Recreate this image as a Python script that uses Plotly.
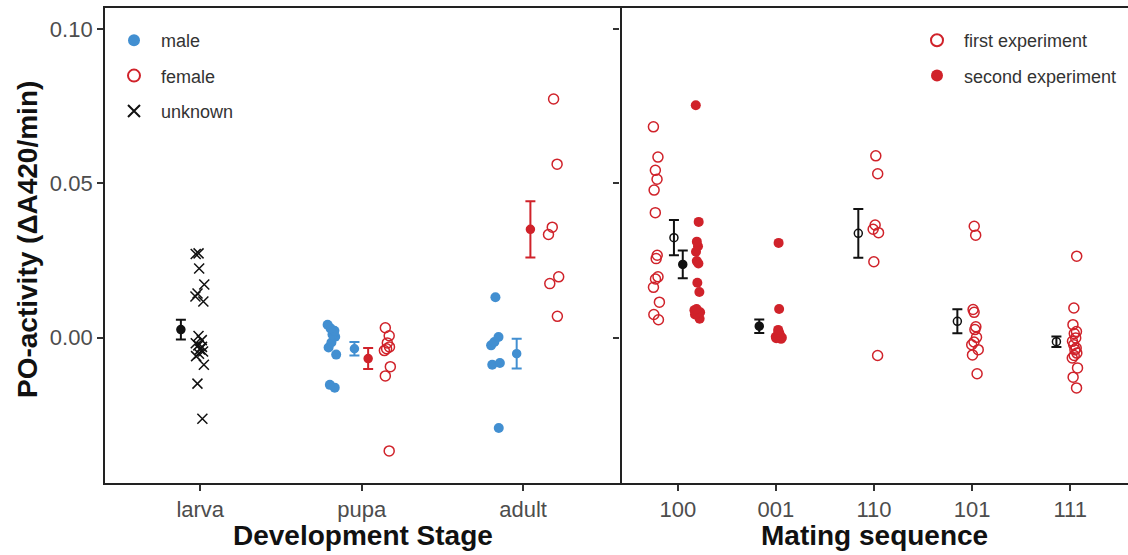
import plotly.graph_objects as go

# ---------------- data ----------------
stages = ["larva", "pupa", "adult"]
sequences = ["100", "001", "110", "101", "111"]
y_ticks = [0.0, 0.05, 0.10]
y_tick_labels = ["0.00", "0.05", "0.10"]

larva_unknown = [0.0273, 0.0271, 0.0224, 0.0172, 0.0133, 0.0143, 0.0117, 0.0005,
                 -0.0008, -0.0018, -0.0025, -0.0030, -0.0038, -0.0045, -0.0052,
                 -0.0060, -0.0088, -0.0149, -0.0263]
pupa_male = [0.0042, 0.0030, 0.0022, 0.0010, 0.0003, -0.0016, -0.0032, -0.0055,
             -0.0153, -0.0162]
pupa_female = [0.0032, 0.0006, -0.0017, -0.0030, -0.0036, -0.0042, -0.0094,
               -0.0124, -0.0367]
adult_male = [0.0131, 0.0002, -0.0014, -0.0025, -0.0082, -0.0088, -0.0293]
adult_female = [0.0773, 0.0562, 0.0358, 0.0334, 0.0197, 0.0175, 0.0069]

seq100_first = [0.0683, 0.0585, 0.0542, 0.0513, 0.0478, 0.0405, 0.0267, 0.0256,
                0.0197, 0.0190, 0.0163, 0.0115, 0.0075, 0.0058]
seq100_second = [0.0753, 0.0375, 0.0311, 0.0296, 0.0278, 0.0248, 0.0240, 0.0178,
                 0.0148, 0.0093, 0.0089, 0.0082, 0.0075, 0.0061]
seq001_second = [0.0307, 0.0093, 0.0025, 0.0020, 0.0015, 0.0010, 0.0008, 0.0005,
                 0.0003, 0.0000, -0.0002, -0.0004]
seq110_first = [0.0589, 0.0531, 0.0365, 0.0351, 0.0340, 0.0246, -0.0058]
seq101_first = [0.0361, 0.0332, 0.0091, 0.0082, 0.0035, 0.0026, 0.0001, -0.0014,
                -0.0023, -0.0039, -0.0056, -0.0117]
seq111_first = [0.0264, 0.0096, 0.0042, 0.0020, 0.0013, -0.0001, -0.0012, -0.0023,
                -0.0034, -0.0039, -0.0050, -0.0058, -0.0066, -0.0098, -0.0128, -0.0163]

# summary (mean, standard error)
stage_mean = {"larva_unknown": 0.0026, "pupa_male": -0.0036, "pupa_female": -0.0068,
              "adult_male": -0.0052, "adult_female": 0.0351}
stage_se = {"larva_unknown": 0.0032, "pupa_male": 0.0022, "pupa_female": 0.0034,
            "adult_male": 0.0048, "adult_female": 0.0091}
seq_mean = {"100_first": 0.0324, "100_second": 0.0237, "001_second": 0.0037,
            "110_first": 0.0338, "101_first": 0.0053, "111_first": -0.0013}
seq_se = {"100_first": 0.0057, "100_second": 0.0045, "001_second": 0.0022,
          "110_first": 0.0079, "101_first": 0.0039, "111_first": 0.0017}

# ---------------- styling ----------------
W, H = 1128, 555
BLUE = "#428FD1"
RED = "#D0222A"
BLACK = "#111111"
FONT = "Liberation Sans"
TICK_GREY = "#4d4d4d"

fig = go.Figure()


def strip(pos, values, xa, ya, symbol, color, lw):
    fig.add_trace(go.Box(
        x=[pos] * len(values), y=values, xaxis=xa, yaxis=ya,
        boxpoints="all", jitter=0.85, pointpos=0, width=0.1,
        line=dict(color="rgba(0,0,0,0)", width=0), fillcolor="rgba(0,0,0,0)",
        marker=dict(symbol=symbol, color=color, size=10,
                    line=dict(color=color, width=lw)),
        showlegend=False, hoverinfo="y"))


def mean_se(pos, m, s, xa, ya, symbol, color):
    fig.add_trace(go.Scatter(
        x=[pos], y=[m], xaxis=xa, yaxis=ya, mode="markers",
        marker=dict(symbol=symbol, color=color, size=8,
                    line=dict(color=color, width=1.5)),
        error_y=dict(type="data", array=[s], color=color, thickness=2, width=5),
        showlegend=False, hoverinfo="y"))


# left panel: development stage
ix = {s: i + 1 for i, s in enumerate(stages)}
strip(ix["larva"] + 0.0, larva_unknown, "x", "y", "x-thin", BLACK, 1.5)
mean_se(ix["larva"] - 0.12, stage_mean["larva_unknown"], stage_se["larva_unknown"], "x", "y", "circle", BLACK)

strip(ix["pupa"] - 0.18, pupa_male, "x", "y", "circle", BLUE, 0)
mean_se(ix["pupa"] - 0.045, stage_mean["pupa_male"], stage_se["pupa_male"], "x", "y", "circle", BLUE)
mean_se(ix["pupa"] + 0.04, stage_mean["pupa_female"], stage_se["pupa_female"], "x", "y", "circle", RED)
strip(ix["pupa"] + 0.16, pupa_female, "x", "y", "circle-open", RED, 1.5)

strip(ix["adult"] - 0.17, adult_male, "x", "y", "circle", BLUE, 0)
mean_se(ix["adult"] - 0.04, stage_mean["adult_male"], stage_se["adult_male"], "x", "y", "circle", BLUE)
mean_se(ix["adult"] + 0.045, stage_mean["adult_female"], stage_se["adult_female"], "x", "y", "circle", RED)
strip(ix["adult"] + 0.19, adult_female, "x", "y", "circle-open", RED, 1.5)

# right panel: mating sequence
jx = {s: i + 1 for i, s in enumerate(sequences)}
strip(jx["100"] - 0.22, seq100_first, "x2", "y2", "circle-open", RED, 1.5)
mean_se(jx["100"] - 0.04, seq_mean["100_first"], seq_se["100_first"], "x2", "y2", "circle-open", BLACK)
mean_se(jx["100"] + 0.05, seq_mean["100_second"], seq_se["100_second"], "x2", "y2", "circle", BLACK)
strip(jx["100"] + 0.20, seq100_second, "x2", "y2", "circle", RED, 0)

mean_se(jx["001"] - 0.17, seq_mean["001_second"], seq_se["001_second"], "x2", "y2", "circle", BLACK)
strip(jx["001"] + 0.03, seq001_second, "x2", "y2", "circle", RED, 0)

mean_se(jx["110"] - 0.16, seq_mean["110_first"], seq_se["110_first"], "x2", "y2", "circle-open", BLACK)
strip(jx["110"] + 0.02, seq110_first, "x2", "y2", "circle-open", RED, 1.5)

mean_se(jx["101"] - 0.15, seq_mean["101_first"], seq_se["101_first"], "x2", "y2", "circle-open", BLACK)
strip(jx["101"] + 0.03, seq101_first, "x2", "y2", "circle-open", RED, 1.5)

mean_se(jx["111"] - 0.14, seq_mean["111_first"], seq_se["111_first"], "x2", "y2", "circle-open", BLACK)
strip(jx["111"] + 0.05, seq111_first, "x2", "y2", "circle-open", RED, 1.5)

# legend entries
def legend_entry(name, symbol, color, lw, legend, group):
    fig.add_trace(go.Scatter(
        x=[None], y=[None], mode="markers", name=name, legend=legend,
        legendgroup=group,
        marker=dict(symbol=symbol, color=color, size=10, line=dict(color=color, width=lw))))


legend_entry("male", "circle", BLUE, 0, "legend", "a")
legend_entry("female", "circle-open", RED, 1.5, "legend", "b")
legend_entry("unknown", "x-thin", BLACK, 1.5, "legend", "c")
legend_entry("first experiment", "circle-open", RED, 1.5, "legend2", "d")
legend_entry("second experiment", "circle", RED, 0, "legend2", "e")

y_lo, y_hi = -0.0471, 0.1068
ydom = [1 - 483 / H, 1 - 8 / H]
axis_common = dict(showgrid=False, zeroline=False, linecolor="#222",
                   linewidth=1.8, ticks="outside", ticklen=6, tickwidth=1.5,
                   tickcolor="#333", tickfont=dict(family=FONT, size=22, color=TICK_GREY),
                   automargin=False, fixedrange=True)

legend_common = dict(bgcolor="rgba(0,0,0,0)", font=dict(family=FONT, size=18, color="#333"),
                     tracegroupgap=9, itemsizing="constant", itemwidth=44,
                     xanchor="left", yanchor="top")

fig.update_layout(
    width=W, height=H, margin=dict(l=0, r=0, t=0, b=0),
    paper_bgcolor="white", plot_bgcolor="white",
    xaxis=dict(domain=[105 / W, 620 / W], range=[0.41, 3.6], tickvals=[1, 2, 3],
               ticktext=stages, showline=True, mirror=True, anchor="y", **axis_common),
    yaxis=dict(domain=ydom, range=[y_lo, y_hi], tickvals=y_ticks, ticktext=y_tick_labels,
               showline=True, mirror=True, anchor="x", **axis_common),
    xaxis2=dict(domain=[620 / W, 1.0], range=[0.41, 5.59], tickvals=[1, 2, 3, 4, 5],
                ticktext=sequences, showline=True, mirror=True, anchor="y2", **axis_common),
    yaxis2=dict(domain=ydom, range=[y_lo, y_hi], tickvals=y_ticks, showticklabels=False,
                showline=False, anchor="x2", **axis_common),
    legend=dict(x=107 / W, y=1 - 22 / H, **legend_common),
    legend2=dict(x=910 / W, y=1 - 22 / H, **legend_common),
    showlegend=True,
    annotations=[
        dict(text="<b>Development Stage</b>", x=362.5 / W, y=1 - 535 / H, xref="paper",
             yref="paper", showarrow=False, xanchor="center", yanchor="middle",
             font=dict(family=FONT, size=28, color="#111")),
        dict(text="<b>Mating sequence</b>", x=874 / W, y=1 - 535 / H, xref="paper",
             yref="paper", showarrow=False, xanchor="center", yanchor="middle",
             font=dict(family=FONT, size=28, color="#111")),
        dict(text="<b>PO-activity (ΔA420/min)</b>", x=27 / W, y=1 - 240 / H, xref="paper",
             yref="paper", showarrow=False, xanchor="center", yanchor="middle",
             textangle=-90, font=dict(family=FONT, size=28, color="#111")),
    ],
)

fig.write_html("out.html")
